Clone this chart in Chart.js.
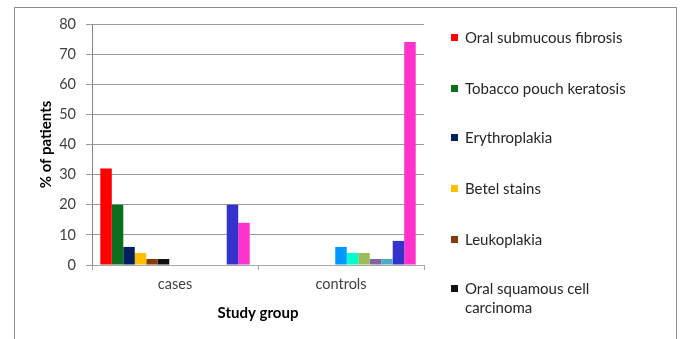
<!DOCTYPE html>
<html>
<head>
<meta charset="utf-8">
<script src="https://cdn.jsdelivr.net/npm/chart.js@4/dist/chart.umd.min.js"></script>
<style>
  html, body { margin: 0; padding: 0; background: #fff; }
  #wrap { position: relative; width: 685px; height: 339px; overflow: hidden; }
  #frame { position: absolute; left: 14px; top: 7px; width: 663px; height: 360px; border: 1px solid #8c8c8c; box-sizing: border-box; }
  #chart { position: absolute; left: 0; top: 0; }
  #legend { position: absolute; left: 451px; top: 0; font-family: Lato, "Liberation Sans", sans-serif; font-size: 15px; color: #262626; }
  .item { position: absolute; left: 0; white-space: nowrap; line-height: 19px; }
  .sw { position: absolute; left: 0; width: 7px; height: 7px; }
  .txt { position: absolute; left: 14px; }
</style>
</head>
<body>
<div id="wrap">
  <div id="frame"></div>
  <canvas id="chart" width="685" height="339"></canvas>
  <div id="legend"></div>
</div>
<script>
// Study groups on the x axis
const categories = ['cases', 'controls'];

// Lesion types, one bar series each
const seriesNames = [
  'Oral submucous fibrosis',
  'Tobacco pouch keratosis',
  'Erythroplakia',
  'Betel stains',
  'Leukoplakia',
  'Oral squamous cell carcinoma',
  'Series 7',
  'Series 8',
  'Series 9',
  'Series 10',
  'Series 11',
  'Series 12',
  'Series 13'
];
const seriesColors = [
  '#ff0000', '#0b6e1f', '#002060', '#ffc000', '#843c0c', '#111111',
  '#0099ff', '#00ffcc', '#9bbb59', '#8064a2', '#4bacc6', '#3333cc', '#ff33cc'
];

// % of patients per series: [cases, controls]
const casesValues    = [32, 20, 6, 4, 2, 2, 0, 0, 0, 0, 0, 20, 14];
const controlsValues = [0, 0, 0, 0, 0, 0, 6, 4, 4, 2, 2, 8, 74];

// Y axis ticks
const yTicks = [0, 10, 20, 30, 40, 50, 60, 70, 80];

// Legend entries shown beside the plot
const legendCount = 6;
const legendRows = [38, 89, 138, 189, 240, 289];

const datasets = seriesNames.map((name, i) => ({
  label: name,
  data: [casesValues[i], controlsValues[i]],
  backgroundColor: seriesColors[i],
  borderWidth: 0
}));

const tickFont = { family: 'Lato, "Liberation Sans", sans-serif', size: 14.5 };
const titleFont = { family: 'Lato, "Liberation Sans", sans-serif', size: 15, weight: 'bold' };

new Chart(document.getElementById('chart'), {
  type: 'bar',
  data: { labels: categories, datasets },
  options: {
    responsive: false,
    animation: false,
    layout: { padding: { left: 0, right: 261, top: 24, bottom: 0 } },
    datasets: { bar: { categoryPercentage: 0.9, barPercentage: 1.0 } },
    plugins: { legend: { display: false }, tooltip: { enabled: false } },
    scales: {
      x: {
        offset: true,
        grid: { offset: true, drawOnChartArea: false, drawTicks: true, tickLength: 5, color: '#a6a6a6' },
        border: { color: '#a6a6a6', width: 1 },
        ticks: { color: '#404040', font: tickFont, padding: 6 },
        title: { display: true, text: 'Study group', color: '#000', font: titleFont, padding: { top: 7, bottom: 17 } },
        afterFit: s => { s.height = 74; }
      },
      y: {
        min: 0, max: 80,
        afterBuildTicks: s => { s.ticks = yTicks.map(v => ({ value: v })); },
        grid: { color: '#9a9a9a', tickLength: 6 },
        border: { color: '#888888', width: 1 },
        ticks: { color: '#404040', font: tickFont, padding: 10 },
        title: { display: true, text: '% of patients', color: '#000', font: titleFont, padding: { top: 37 } },
        afterFit: s => { s.width = 92; }
      }
    }
  }
});

// Legend beside the plot
const legend = document.getElementById('legend');
for (let i = 0; i < legendCount; i++) {
  const row = document.createElement('div');
  row.className = 'item';
  row.style.top = (legendRows[i] - 10) + 'px';
  const sw = document.createElement('div');
  sw.className = 'sw';
  sw.style.background = seriesColors[i];
  sw.style.top = '6px';
  const tx = document.createElement('div');
  tx.className = 'txt';
  tx.style.whiteSpace = 'normal';
  tx.style.width = i === 5 ? '185px' : '210px';
  tx.textContent = seriesNames[i];
  row.appendChild(sw);
  row.appendChild(tx);
  legend.appendChild(row);
}
</script>
</body>
</html>
